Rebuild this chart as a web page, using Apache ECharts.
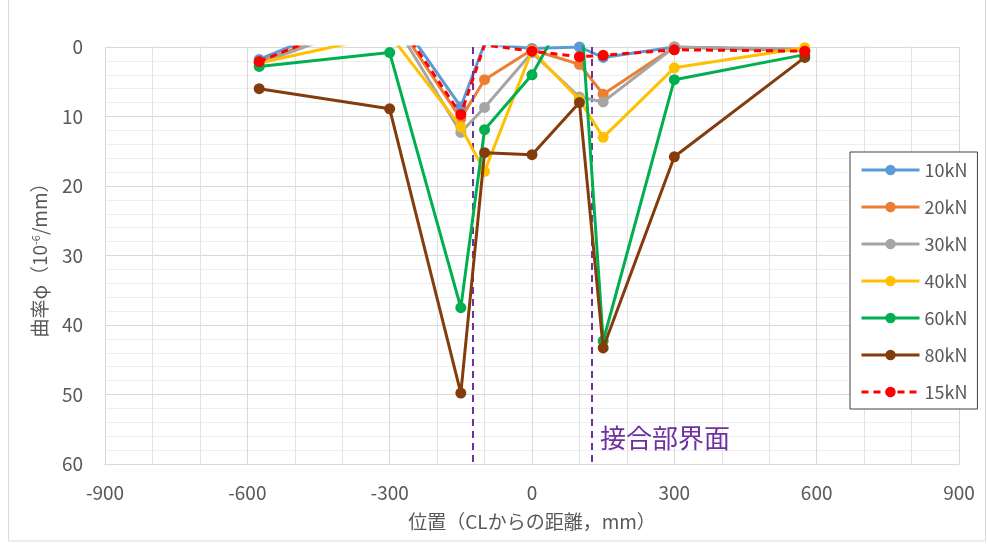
<!DOCTYPE html>
<html>
<head>
<meta charset="utf-8">
<script src="https://cdn.jsdelivr.net/npm/echarts@6/dist/echarts.min.js"></script>
<style>
html,body{margin:0;padding:0;background:#fff;}
#chart{width:987px;height:547px;}
</style>
</head>
<body>
<div id="chart"></div>
<script>
const positions = [-575, -300, -150, -100, 0, 100, 150, 300, 575];
const seriesNames = ['10kN', '20kN', '30kN', '40kN', '60kN', '80kN', '15kN'];
const v10 = [1.8, -6.0, 8.6, -0.5, 0.2, 0.0, 1.5, 0.0, 0.5];
const v20 = [2.2, -5.0, 10.3, 4.7, 0.4, 2.5, 6.8, 0.0, 0.5];
const v30 = [2.4, -4.5, 12.3, 8.7, 0.8, 7.2, 7.9, 0.0, 0.3];
const v40 = [2.3, -1.8, 11.5, 17.9, 0.5, 7.6, 13.0, 3.0, 0.1];
const v60 = [2.8, 0.8, 37.5, 11.9, 4.0, -8.3, 42.3, 4.7, 1.1];
const v80 = [6.0, 8.9, 49.8, 15.2, 15.5, 8.0, 43.3, 15.8, 1.5];
const v15 = [2.1, -5.5, 9.7, -0.3, 0.6, 1.4, 1.2, 0.4, 0.6];
const interfaceLines = [-125, 125];
const annotationText = '接合部界面';

const allValues = [v10, v20, v30, v40, v60, v80, v15];
const colors = ['#5B9BD5', '#ED7D31', '#A5A5A5', '#FFC000', '#00B050', '#843C0C', '#FF0000'];
const FONT = '"Noto Sans CJK JP", "Noto Sans", sans-serif';

const series = seriesNames.map((name, i) => {
  const dashed = name === '15kN';
  const s = {
    name: name,
    type: 'line',
    data: positions.map((x, k) => [x, allValues[i][k]]),
    symbol: 'circle',
    symbolSize: 11,
    clip: true,
    itemStyle: { color: colors[i] },
    lineStyle: { color: colors[i], width: 3, type: dashed ? [7, 5] : 'solid' },
    emphasis: { disabled: true },
    z: 3 + i
  };
  if (i === 0) {
    s.markLine = {
      silent: true,
      symbol: ['none', 'none'],
      label: { show: false },
      lineStyle: { color: '#7030A0', width: 2, type: [7, 5] },
      data: interfaceLines.map(x => ({ xAxis: x }))
    };
  }
  return s;
});

const chart = echarts.init(document.getElementById('chart'), null, { renderer: 'canvas' });
chart.setOption({
  backgroundColor: '#ffffff',
  animation: false,
  textStyle: { fontFamily: FONT },
  grid: { left: 105, right: 28, top: 47, bottom: 83, containLabel: false },
  xAxis: {
    type: 'value',
    min: -900, max: 900, interval: 300,
    name: '位置（CLからの距離，mm）',
    nameLocation: 'middle',
    nameGap: 48,
    nameTextStyle: { fontSize: 19, color: '#595959', fontFamily: FONT },
    axisLine: { show: true, onZero: false, lineStyle: { color: '#d9d9d9', width: 1 } },
    axisTick: { show: false },
    axisLabel: { fontSize: 19, color: '#595959', margin: 19, fontFamily: FONT },
    splitLine: { show: true, lineStyle: { color: '#d9d9d9', width: 1 } },
    minorTick: { show: false, splitNumber: 3 },
    minorSplitLine: { show: true, lineStyle: { color: '#e3e3e3', width: 1 } }
  },
  yAxis: {
    type: 'value',
    inverse: true,
    min: 0, max: 60, interval: 10,
    name: '曲率φ（10{sup|-6}/mm）',
    nameLocation: 'middle',
    nameGap: 56,
    nameTextStyle: {
      fontSize: 19, color: '#595959', fontFamily: FONT,
      rich: { sup: { fontSize: 11, color: '#595959', verticalAlign: 'top', padding: [0, 0, 8, 0], fontFamily: FONT } }
    },
    axisLine: { show: true, lineStyle: { color: '#d9d9d9', width: 1 } },
    axisTick: { show: false },
    axisLabel: { fontSize: 19, color: '#595959', margin: 22, fontFamily: FONT },
    splitLine: { show: true, lineStyle: { color: '#d9d9d9', width: 1 } },
    minorTick: { show: false, splitNumber: 5 },
    minorSplitLine: { show: true, lineStyle: { color: '#efefef', width: 1 } }
  },
  legend: {
    orient: 'vertical',
    left: 850, top: 152,
    backgroundColor: '#ffffff',
    borderColor: '#404040', borderWidth: 1,
    padding: [8, 10, 7, 10],
    itemWidth: 58, itemHeight: 13, itemGap: 17,
    lineStyle: { width: 3 },
    textStyle: { fontSize: 18, color: '#595959', lineHeight: 20, fontFamily: FONT },
    data: seriesNames
  },
  graphic: [
    { type: 'rect', silent: true, z: 0,
      shape: { x: 8.5, y: -2, width: 977, height: 543 },
      style: { fill: null, stroke: '#d9d9d9', lineWidth: 1 } },
    { type: 'text', silent: true, left: 600, top: 425, z: 100,
      style: { text: annotationText, fontSize: 26, fill: '#7030A0', fontFamily: FONT } }
  ],
  series: series
});
</script>
</body>
</html>
